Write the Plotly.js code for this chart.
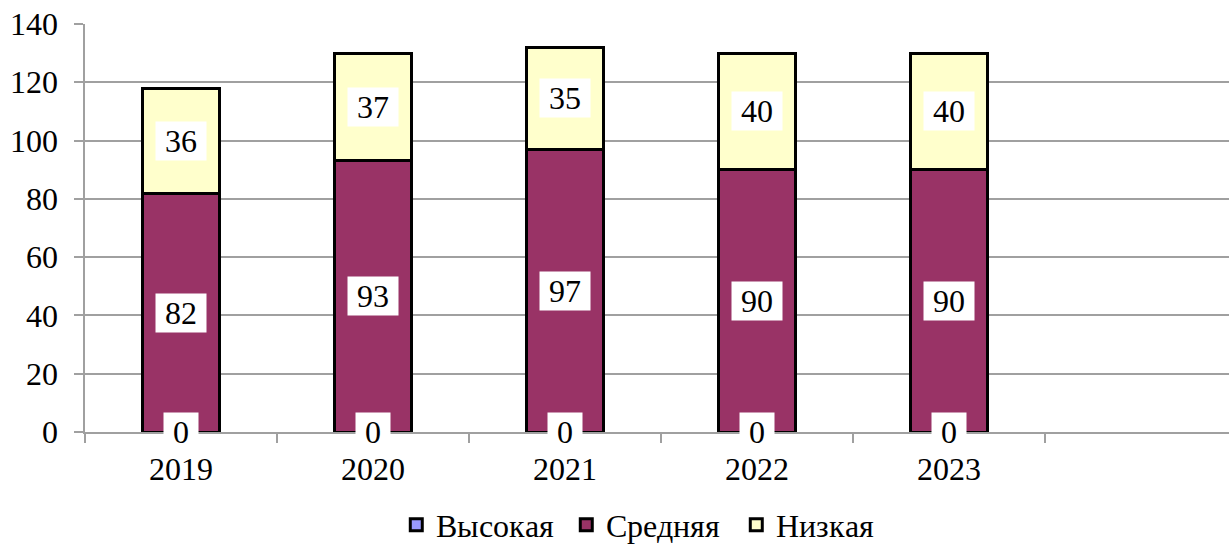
<!DOCTYPE html>
<html>
<head>
<meta charset="utf-8">
<script src="https://cdn.plot.ly/plotly-3.0.1.min.js"></script>
<style>
@font-face { font-family: 'ChartSerif'; src: local('Liberation Serif'), local('LiberationSerif'), local('Liberation Serif Regular'), local('LiberationSerif-Regular'); }
html,body{margin:0;padding:0;background:#fff;overflow:hidden;font-family:'ChartSerif','Liberation Serif',serif}
#chart text, .main-svg text { font-family: 'ChartSerif', 'Liberation Serif', 'Times New Roman', serif !important; }
</style>
</head>
<body>
<div id="chart" style="width:1229px;height:544px;position:relative"></div>
<script>
const categories = ['2019', '2020', '2021', '2022', '2023', ' '];
const seriesNames = ['Высокая', 'Средняя', 'Низкая'];
const high = [0, 0, 0, 0, 0];
const medium = [82, 93, 97, 90, 90];
const low = [36, 37, 35, 40, 40];
const yTicks = [0, 20, 40, 60, 80, 100, 120, 140];

const years = categories.slice(0, 5);
const colors = ['#9999FF', '#993366', '#FFFFCC'];
const seriesValues = [high, medium, low];
const FONT = 'ChartSerif, Liberation Serif, serif';
const FS = 32;
const NB = '\u00a0';

const traces = seriesValues.map((vals, k) => ({
  type: 'bar',
  name: seriesNames[k],
  x: years,
  y: vals,
  width: 0.4,
  marker: {color: colors[k], line: {color: '#000', width: 3}},
  hoverinfo: 'skip'
}));

const annotations = [];
years.forEach((yr, i) => {
  let base = 0;
  seriesValues.forEach((vals) => {
    const v = vals[i];
    annotations.push({
      x: i, y: base + v / 2, xref: 'x', yref: 'y',
      text: NB + String(v) + NB,
      showarrow: false,
      bgcolor: '#ffffff',
      borderpad: 1,
      font: {family: FONT, size: FS, color: '#000'}
    });
    base += v;
  });
});

const layout = {
  width: 1229, height: 544,
  margin: {l: 85, r: 0, t: 24, b: 112, autoexpand: false},
  barmode: 'stack',
  paper_bgcolor: '#fff', plot_bgcolor: '#fff',
  font: {family: FONT, size: FS, color: '#000'},
  showlegend: true,
  legend: {
    orientation: 'h', x: 0.495, xanchor: 'center', y: -0.228, yanchor: 'middle',
    font: {family: FONT, size: FS, color: '#000'},
    traceorder: 'normal', entrywidth: 125
  },
  xaxis: {
    type: 'category', categoryorder: 'array', categoryarray: categories,
    range: [-0.5, 5.458], automargin: false,
    tickson: 'boundaries', ticks: 'outside', ticklen: 9, tickwidth: 2, tickcolor: '#A0A0A0',
    ticklabelstandoff: 8,
    showline: true, linecolor: '#A0A0A0', linewidth: 2,
    showgrid: false, zeroline: false,
    tickfont: {family: FONT, size: FS, color: '#000'}
  },
  yaxis: {
    range: [0, 140], tickvals: yTicks, ticktext: yTicks.map(String), automargin: false,
    ticks: 'outside', ticklen: 9, tickwidth: 2, tickcolor: '#A0A0A0',
    ticklabelstandoff: 10,
    showline: true, linecolor: '#A0A0A0', linewidth: 2,
    showgrid: true, gridcolor: '#A0A0A0', gridwidth: 2, zeroline: false,
    tickfont: {family: FONT, size: FS, color: '#000'}
  },
  annotations: annotations
};

const gd = document.getElementById('chart');
function draw() {
  Plotly.newPlot(gd, traces, layout, {displayModeBar: false, staticPlot: true});
}
if (document.fonts && document.fonts.load) {
  document.fonts.load('32px ChartSerif').then(draw, draw);
} else {
  draw();
}
</script>
</body>
</html>
